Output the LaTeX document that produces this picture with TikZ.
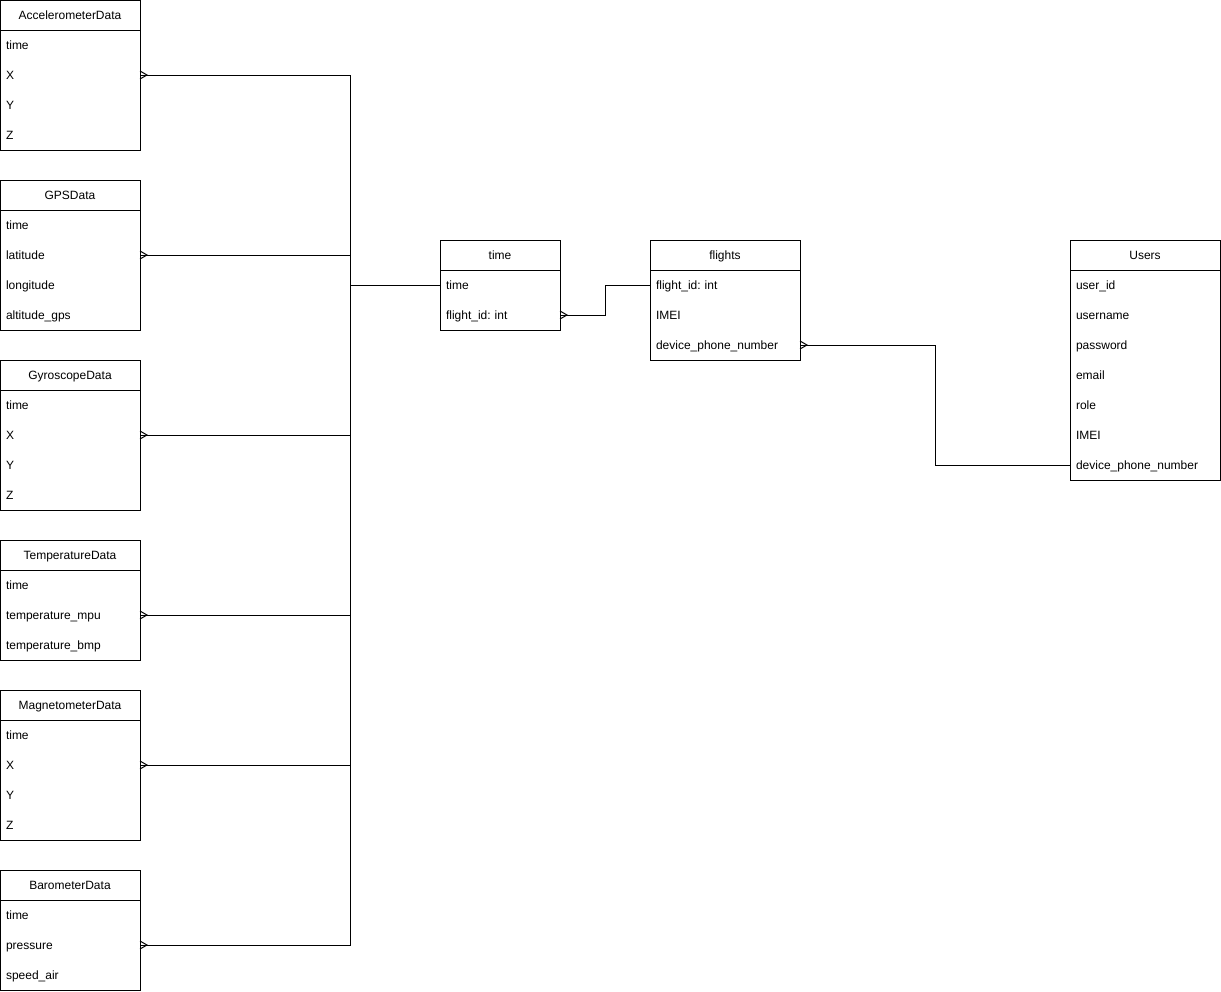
\documentclass[tikz,border=0pt]{standalone}
\usepackage{fontspec}
\setmainfont{Liberation Sans}
\usetikzlibrary{calc}
\frenchspacing

\tikzset{
  tabhead/.style={draw, minimum height=30pt, inner sep=0pt, outer sep=0pt, anchor=north west, text height=10pt, text depth=1pt},
  tabrow/.style={minimum height=30pt, inner xsep=6pt, inner ysep=0pt, outer sep=0pt, align=left, anchor=north west, text height=10pt, text depth=1pt},
}
% name, top-left, width, title, number of rows, fields
\newcommand{\ertable}[6]{%
  \pgfmathsetmacro\rowtw{#3-12}
  \node[tabhead, minimum width=#3pt] (#1) at #2 {#4};
  \foreach \f [count=\i] in {#6}
    \node[tabrow, text width=\rowtw pt] (#1-\i) at ($(#1.south west)+(0,{30*(\i-1)})$) {\f};
  \draw (#1.north west) rectangle ++(#3,{30*(#5+1)});
}
\newcommand{\crowfoot}[1]{\draw ($(#1)+(0,-4)$) -- ($(#1)+(7,0)$) -- ($(#1)+(0,4)$);}

\begin{document}
\begin{tikzpicture}[x=1pt,y=-1pt,line width=1pt,every node/.style={font=\fontsize{12}{14}\selectfont}]
\useasboundingbox (0,0) rectangle (1221,991);

% sensor tables
\ertable{acc}{(0,0)}{140}{AccelerometerData}{4}{time,X,Y,Z}
\ertable{gps}{(0,180)}{140}{GPSData}{4}{time,latitude,longitude,altitude\_gps}
\ertable{gyro}{(0,360)}{140}{GyroscopeData}{4}{time,X,Y,Z}
\ertable{temp}{(0,540)}{140}{TemperatureData}{3}{time,temperature\_mpu,temperature\_bmp}
\ertable{mag}{(0,690)}{140}{MagnetometerData}{4}{time,X,Y,Z}
\ertable{baro}{(0,870)}{140}{BarometerData}{3}{time,pressure,speed\_air}

% main tables
\ertable{tm}{(440,240)}{120}{time}{2}{time,flight\_id: int}
\ertable{fl}{(650,240)}{150}{flights}{3}{flight\_id: int,IMEI,device\_phone\_number}
\ertable{usr}{(1070,240)}{150}{Users}{7}{user\_id,username,password,email,role,IMEI,device\_phone\_number}

% relations
\coordinate (hub) at (350,285);
\foreach \s in {acc,gps,gyro,temp,mag,baro} {
  \draw (\s-2.east) -| (hub);
  \crowfoot{\s-2.east}
}
\draw (hub) -- (tm-1.west);
\draw (tm-2.east) -- ++(45,0) |- (fl-1.west);
\crowfoot{tm-2.east}
\draw (fl-3.east) -- ++(135,0) |- (usr-7.west);
\crowfoot{fl-3.east}
\end{tikzpicture}
\end{document}
